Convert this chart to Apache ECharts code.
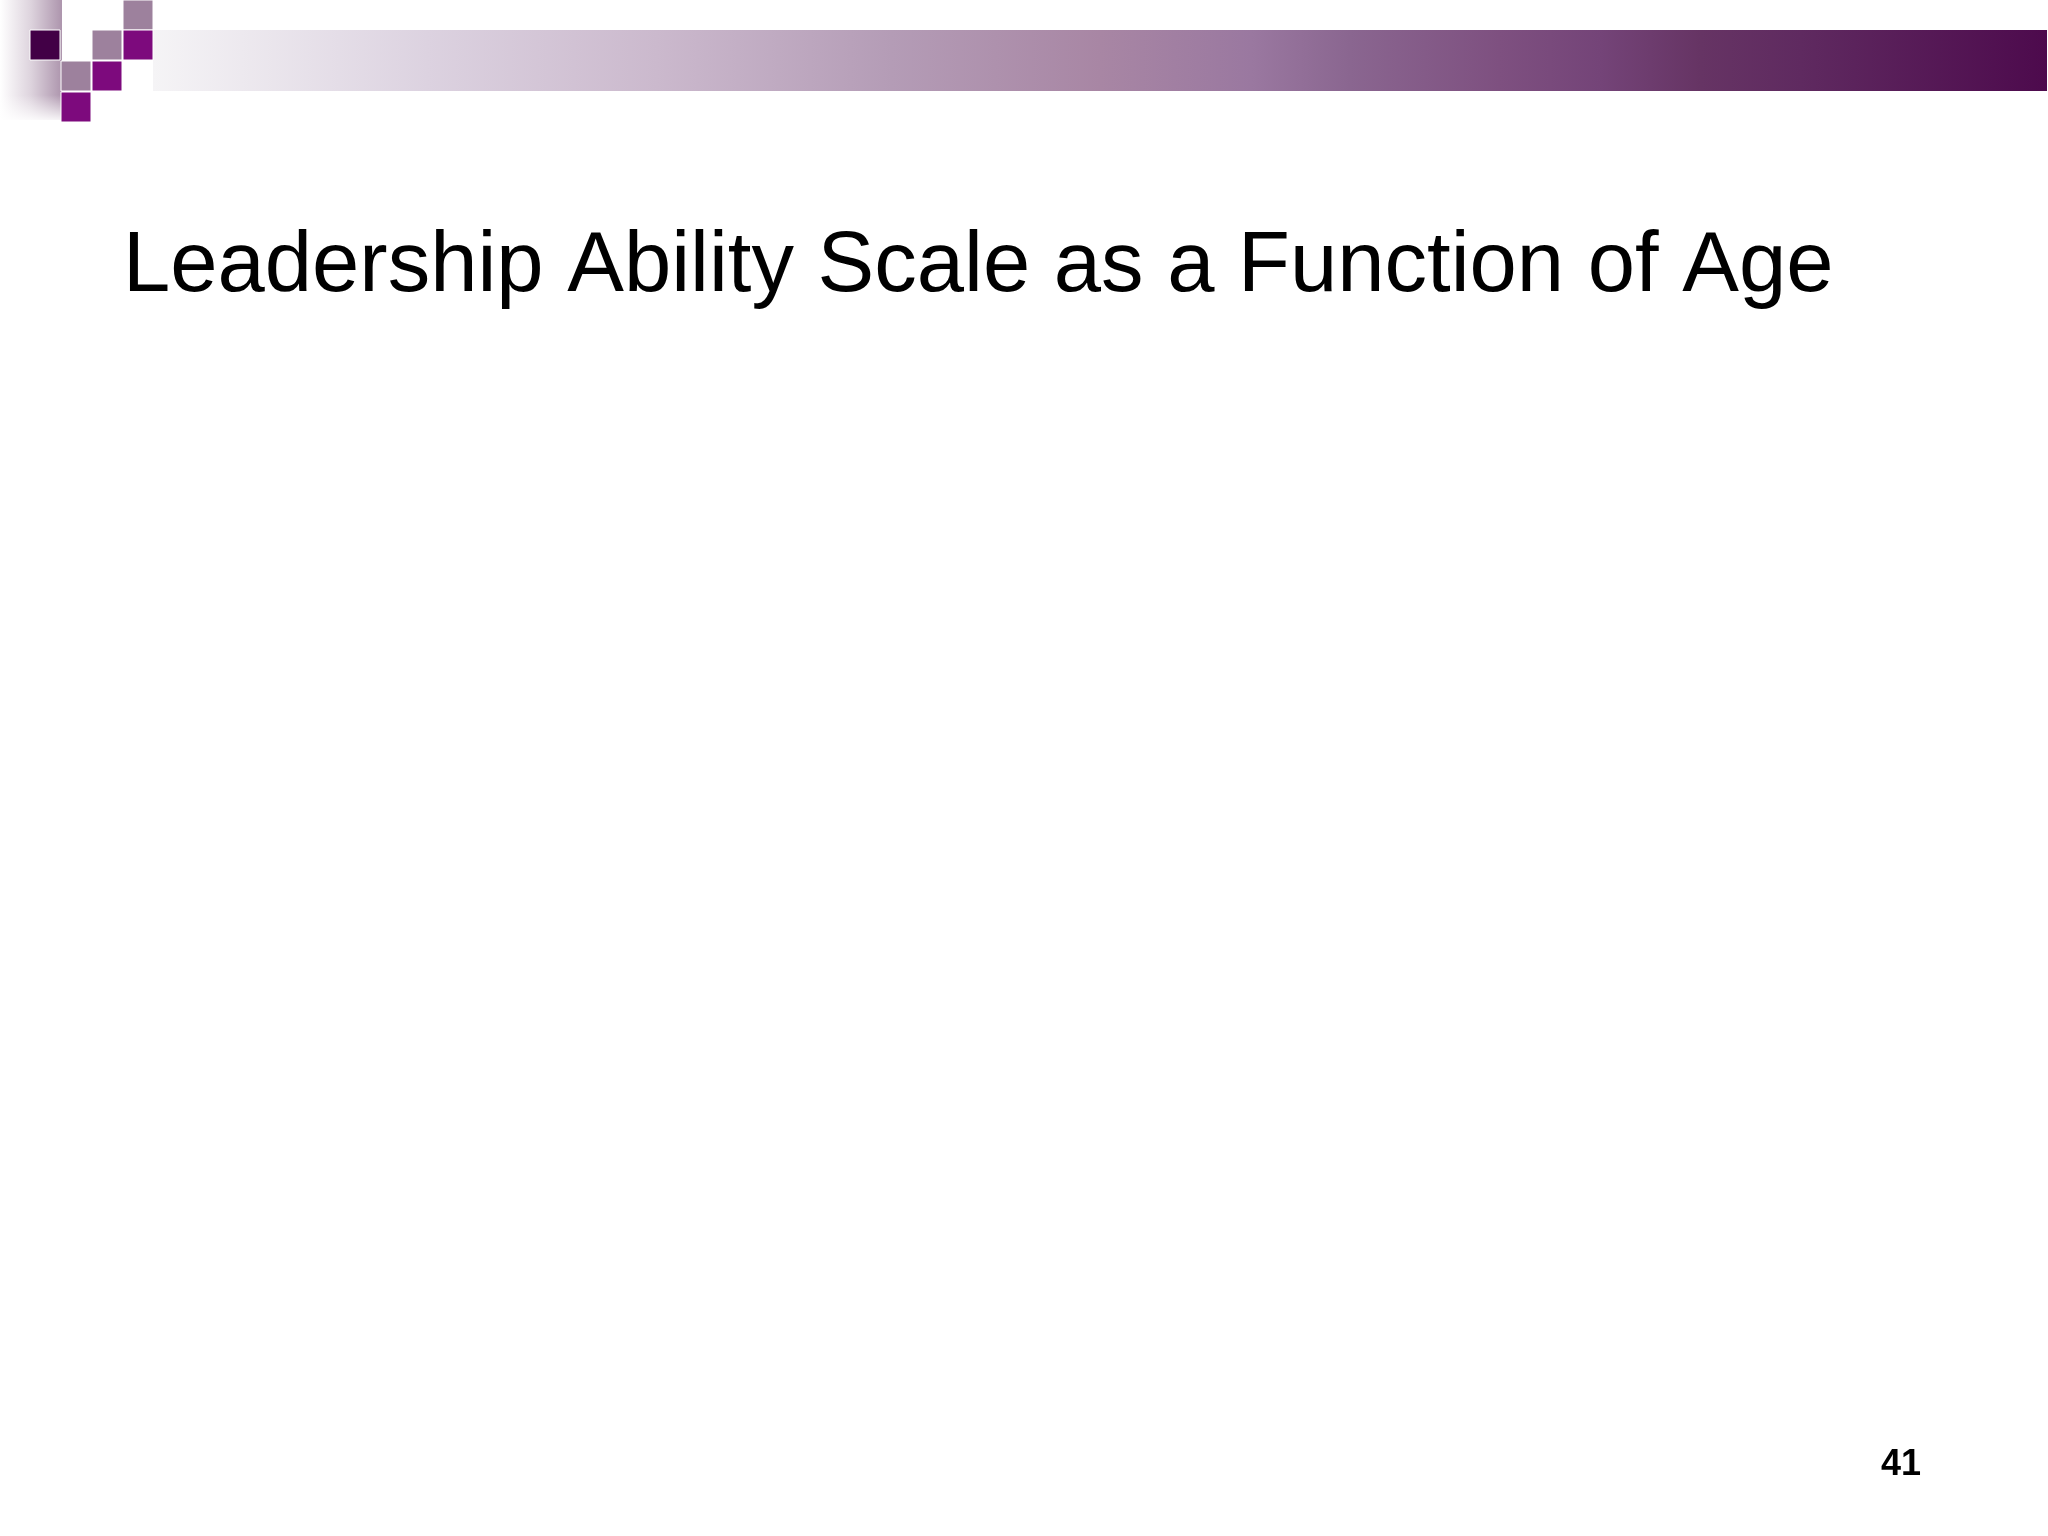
<!DOCTYPE html>
<html>
<head>
<meta charset="utf-8">
<title>Leadership Ability Scale as a Function of Age</title>
<script src="https://cdn.jsdelivr.net/npm/echarts@6/dist/echarts.min.js"></script>
<style>
  html, body { margin: 0; padding: 0; background: #ffffff; }
  #main { width: 2048px; height: 1536px; }
</style>
</head>
<body>
<div id="main"></div>
<script>
// slide texts
var titleText = 'Leadership Ability Scale as a Function of Age';
var pageNumber = '41';
// the slide holds no plotted values
var categories = [];
var seriesValues = [];

var grey = '#9d819d', dark = '#420046', magenta = '#7d0a7d';

function sq(x, y, color) {
    return {
        type: 'rect',
        shape: { x: x, y: y, width: 30, height: 30 },
        style: { fill: color, stroke: '#ffffff', lineWidth: 1 }
    };
}

var myChart = echarts.init(document.getElementById('main'));
var option = {
    backgroundColor: '#ffffff',
    animation: false,
    title: {
        text: titleText,
        left: 118,
        top: 220,
        textStyle: {
            fontFamily: 'Liberation Sans, Arial, sans-serif',
            fontSize: 85,
            fontWeight: 'normal',
            color: '#000000'
        }
    },
    graphic: [
        // left faded band
        {
            type: 'rect',
            shape: { x: 0, y: 0, width: 62, height: 120 },
            style: {
                fill: new echarts.graphic.LinearGradient(0, 0, 1, 0, [
                    { offset: 0, color: 'rgba(255,255,255,1)' },
                    { offset: 0.5, color: '#ddd3dd' },
                    { offset: 1, color: '#ad95ad' }
                ])
            }
        },
        {
            type: 'rect',
            shape: { x: 0, y: 95, width: 62, height: 28 },
            style: {
                fill: new echarts.graphic.LinearGradient(0, 0, 0, 1, [
                    { offset: 0, color: 'rgba(255,255,255,0)' },
                    { offset: 1, color: 'rgba(255,255,255,1)' }
                ])
            }
        },
        // top gradient bar
        {
            type: 'rect',
            shape: { x: 153, y: 30, width: 1894, height: 61 },
            style: {
                fill: new echarts.graphic.LinearGradient(0, 0, 1, 0, [
                    { offset: 0, color: '#f5f4f6' },
                    { offset: 0.145, color: '#dcd2e0' },
                    { offset: 0.266, color: '#cbb9cd' },
                    { offset: 0.39, color: '#b49cb6' },
                    { offset: 0.5, color: '#a886a4' },
                    { offset: 0.58, color: '#9a78a0' },
                    { offset: 0.632, color: '#8a6690' },
                    { offset: 0.711, color: '#7e5080' },
                    { offset: 0.764, color: '#744478' },
                    { offset: 0.817, color: '#663464' },
                    { offset: 0.87, color: '#5f2a60' },
                    { offset: 1, color: '#4d0a4d' }
                ])
            }
        },
        // checker squares
        sq(123, 0, grey),
        sq(30, 30, dark),
        sq(92, 30, grey),
        sq(123, 30, magenta),
        sq(61, 61, grey),
        sq(92, 61, magenta),
        sq(61, 92, magenta),
        // page number
        {
            type: 'text',
            right: 127,
            top: 1447,
            style: {
                text: pageNumber,
                fontFamily: 'Liberation Sans, Arial, sans-serif',
                fontSize: 36,
                fontWeight: 'bold',
                fill: '#000000'
            }
        }
    ],
    series: []
};
myChart.setOption(option);
</script>
</body>
</html>
